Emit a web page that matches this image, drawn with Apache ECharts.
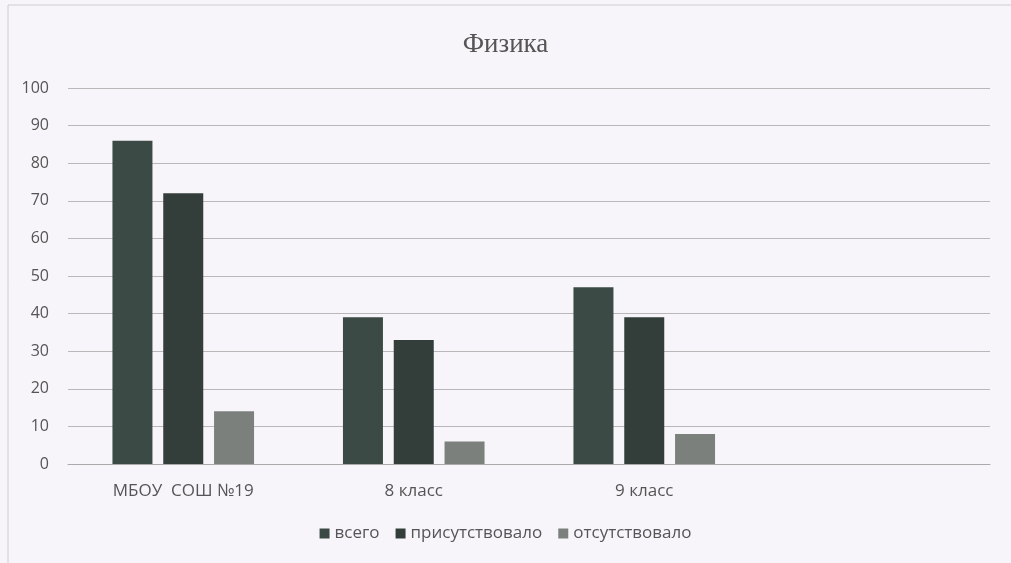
<!DOCTYPE html>
<html>
<head>
<meta charset="utf-8">
<script src="https://cdn.jsdelivr.net/npm/echarts@6/dist/echarts.min.js"></script>
<style>
  html, body { margin: 0; padding: 0; background: #f8f5fa; }
  #chart { width: 1011px; height: 563px; }
</style>
</head>
<body>
<div id="chart"></div>
<script>
// data
const categories = ['МБОУ  СОШ №19', '8 класс', '9 класс', ''];
const total = [86, 39, 47, null];
const present = [72, 33, 39, null];
const absent = [14, 6, 8, null];

const chart = echarts.init(document.getElementById('chart'));

const bar = (name, data, color) => ({
  name: name,
  type: 'bar',
  data: data,
  barWidth: 40,
  barGap: '27%',
  itemStyle: { color: color }
});

chart.setOption({
  backgroundColor: '#f8f5fa',
  textStyle: { fontFamily: 'Open Sans' },
  title: {
    text: 'Физика',
    left: 'center',
    top: 26,
    textStyle: { fontFamily: 'Liberation Serif', fontSize: 27, fontWeight: 'normal', color: '#555' }
  },
  graphic: [{
    type: 'rect',
    shape: { x: 8, y: 5, width: 1010, height: 570 },
    style: { fill: 'none', stroke: '#ccc', lineWidth: 1 },
    silent: true
  }],
  legend: {
    bottom: 16,
    left: 'center',
    itemWidth: 10,
    itemHeight: 10,
    itemGap: 16,
    icon: 'rect',
    textStyle: { fontSize: 17, color: '#555', fontFamily: 'Open Sans' }
  },
  grid: { left: 68, right: 21, top: 88, bottom: 99, containLabel: false },
  xAxis: {
    type: 'category',
    data: categories,
    axisLine: { lineStyle: { color: '#aaa' } },
    axisTick: { show: false },
    axisLabel: { fontSize: 17, color: '#555', margin: 19 }
  },
  yAxis: {
    type: 'value',
    min: 0,
    max: 100,
    interval: 10,
    axisLine: { show: false },
    axisTick: { show: false },
    axisLabel: { fontSize: 16, color: '#555', margin: 19 },
    splitLine: { lineStyle: { color: '#b8b8b8' } }
  },
  series: [
    bar('всего', total, '#3b4a45'),
    bar('присутствовало', present, '#333e3a'),
    bar('отсутствовало', absent, '#7b807d')
  ]
});
</script>
</body>
</html>
